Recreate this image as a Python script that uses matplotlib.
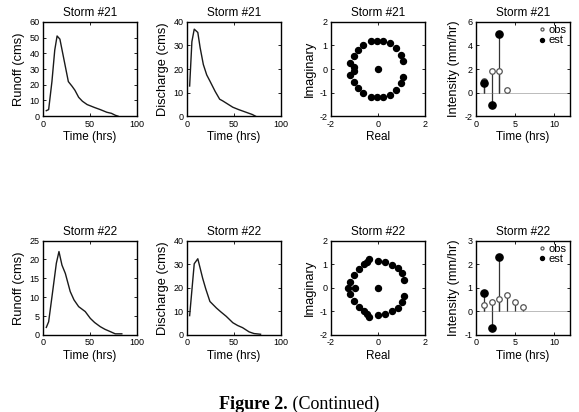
import matplotlib
matplotlib.use("Agg")
import matplotlib.pyplot as plt

plt.rcParams["font.family"] = ["Liberation Sans", "DejaVu Sans"]
plt.rcParams["axes.unicode_minus"] = False

TICK_SIZE = 6.5
LABEL_SIZE = 8.5
YLABEL_SIZE = 9.3
TITLE_SIZE = 8.5

STORMS = ["Storm #21", "Storm #22"]

# runoff (cms) vs time (hrs)
runoff_t21 = [3.5, 6, 9.5, 12.5, 15, 18, 22, 27, 31, 34, 38, 42, 47, 55, 61, 68, 73, 77, 80]
runoff_q21 = [3.5, 4.2, 22, 42, 51, 49, 37, 22, 19, 16.5, 12, 9.5, 7.4, 5.5, 4.2, 2.5, 1.8, 0.6, 0]
runoff_t22 = [3.5, 6, 10, 14.2, 17, 20.2, 23.8, 29, 33, 38, 45, 50.4, 55, 61, 66, 71.6, 77, 84]
runoff_q22 = [2.0, 3.5, 11, 19, 22.1, 18.5, 16.3, 11.5, 9.3, 7.5, 6.2, 4.4, 3.3, 2.2, 1.5, 0.9, 0.3, 0.3]

# discharge (cms) vs time (hrs)
disch_t21 = [2.8, 5.2, 7.7, 11.5, 14, 17.4, 21, 24.4, 30, 34.8, 38, 44, 48.8, 55, 62.7, 69.7, 73]
disch_q21 = [12.8, 31.6, 36.9, 35.5, 29, 21.9, 17.5, 14.9, 10.5, 7.2, 6.5, 5, 3.8, 2.8, 1.7, 0.7, 0]
disch_t22 = [2.8, 7.7, 11.5, 16.7, 20, 24.4, 31.4, 36, 41.8, 48.8, 54, 59.2, 66.2, 71.4, 78.4]
disch_q22 = [8.2, 30.2, 32.3, 24, 19.5, 14.2, 11.4, 9.8, 7.9, 5.2, 4.0, 3.1, 1.3, 0.6, 0.3]

# poles in the complex plane
poles_re21 = [-0.3, -0.06, 0.2, 0.5, 0.78, 0.98, 1.09, -0.62, -0.83, -1.04, -1.17, -1.0,
              -0.3, -0.06, 0.2, 0.5, 0.78, 0.98, 1.09, -0.62, -0.83, -1.04, -1.17, -1.0, 0.0]
poles_im21 = [1.2, 1.2, 1.2, 1.09, 0.87, 0.6, 0.32, 1.03, 0.81, 0.57, 0.26, 0.1,
              -1.2, -1.2, -1.2, -1.09, -0.87, -0.6, -0.32, -1.03, -0.81, -0.57, -0.26, -0.1, 0.0]
poles_re22 = [-0.38, -0.45, -0.6, -0.81, -1.0, -1.2, 0.0, 0.3, 0.61, 0.87, 1.04, 1.1,
              -0.38, -0.45, -0.6, -0.81, -1.0, -1.2, 0.0, 0.3, 0.61, 0.87, 1.04, 1.1,
              -1.26, -0.98, 0.0]
poles_im22 = [1.2, 1.08, 0.99, 0.78, 0.54, 0.26, 1.14, 1.09, 0.97, 0.83, 0.61, 0.31,
              -1.22, -1.1, -1.0, -0.8, -0.57, -0.28, -1.17, -1.1, -1.0, -0.85, -0.62, -0.33,
              0.0, 0.0, 0.0]

# rainfall intensity (mm/hr)
obs_t21 = [1, 2, 3, 4]
obs_i21 = [0.95, 1.8, 1.8, 0.25]
est_t21 = [1, 2, 3]
est_i21 = [0.85, -1.05, 4.95]
obs_t22 = [1, 2, 3, 4, 5, 6]
obs_i22 = [0.27, 0.38, 0.52, 0.69, 0.38, 0.17]
est_t22 = [1, 2, 3]
est_i22 = [0.79, -0.72, 2.29]

COLS = [0.0743, 0.323, 0.5717, 0.822]
ROWS = [0.718, 0.187]
W, H = 0.162, 0.229


def style(ax, title):
    ax.set_title(title, fontsize=TITLE_SIZE, pad=4)
    ax.tick_params(direction="in", top=True, right=True, length=2.5, width=0.6,
                   labelsize=TICK_SIZE, pad=2.5)
    for s in ax.spines.values():
        s.set_linewidth(1.0)
        s.set_color("black")


def hydrograph(ax, t, q, ylabel, ymax, yticks, title):
    ax.plot(t, q, color="#1a1a1a", lw=1.0)
    ax.set_xlim(0, 100)
    ax.set_ylim(0, ymax)
    ax.set_xticks([0, 50, 100])
    ax.set_yticks(yticks)
    ax.set_xlabel("Time (hrs)", fontsize=LABEL_SIZE, labelpad=1.5)
    ax.set_ylabel(ylabel, fontsize=YLABEL_SIZE, labelpad=3)
    style(ax, title)


def poles(ax, re, im, title):
    ax.plot(re, im, "o", color="black", ms=4.3, ls="none")
    ax.set_xlim(-2, 2)
    ax.set_ylim(-2, 2)
    ax.set_xticks([-2, 0, 2])
    ax.set_yticks([-2, -1, 0, 1, 2])
    ax.set_xlabel("Real", fontsize=LABEL_SIZE, labelpad=1.5)
    ax.set_ylabel("Imaginary", fontsize=YLABEL_SIZE, labelpad=3)
    style(ax, title)


def intensity(ax, ot, oi, et, ei, ylim, yticks, title):
    ax.axhline(0, color="#bbbbbb", lw=0.7, zorder=0)
    ax.vlines(ot, 0, oi, color="#333333", lw=0.9)
    ax.vlines(et, 0, ei, color="#333333", lw=0.9)
    ax.plot(ot, oi, "o", ms=4, mfc="white", mec="#555555", mew=0.9, ls="none",
            label="obs", zorder=3)
    ax.plot(et, ei, "o", ms=5.2, color="black", ls="none", label="est", zorder=4)
    ax.set_xlim(0, 12)
    ax.set_ylim(*ylim)
    ax.set_xticks([0, 5, 10])
    ax.set_yticks(yticks)
    ax.set_xlabel("Time (hrs)", fontsize=LABEL_SIZE, labelpad=1.5)
    ax.set_ylabel("Intensity (mm/hr)", fontsize=YLABEL_SIZE, labelpad=3)
    ax.legend(loc="upper right", frameon=False, fontsize=8, markerscale=0.55,
              handlelength=0.6, handletextpad=0.3, labelspacing=0.02,
              borderpad=0.0, borderaxespad=0.3)
    style(ax, title)


fig = plt.figure(figsize=(5.79, 4.12), dpi=100)

ax = fig.add_axes([COLS[0], ROWS[0], W, H])
hydrograph(ax, runoff_t21, runoff_q21, "Runoff (cms)", 60, range(0, 61, 10), STORMS[0])
ax = fig.add_axes([COLS[1], ROWS[0], W, H])
hydrograph(ax, disch_t21, disch_q21, "Discharge (cms)", 40, range(0, 41, 10), STORMS[0])
ax = fig.add_axes([COLS[2], ROWS[0], W, H])
poles(ax, poles_re21, poles_im21, STORMS[0])
ax = fig.add_axes([COLS[3], ROWS[0], W, H])
intensity(ax, obs_t21, obs_i21, est_t21, est_i21, (-2, 6), [-2, 0, 2, 4, 6], STORMS[0])

ax = fig.add_axes([COLS[0], ROWS[1], W, H])
hydrograph(ax, runoff_t22, runoff_q22, "Runoff (cms)", 25, range(0, 26, 5), STORMS[1])
ax = fig.add_axes([COLS[1], ROWS[1], W, H])
hydrograph(ax, disch_t22, disch_q22, "Discharge (cms)", 40, range(0, 41, 10), STORMS[1])
ax = fig.add_axes([COLS[2], ROWS[1], W, H])
poles(ax, poles_re22, poles_im22, STORMS[1])
ax = fig.add_axes([COLS[3], ROWS[1], W, H])
intensity(ax, obs_t22, obs_i22, est_t22, est_i22, (-1, 3), [-1, 0, 1, 2, 3], STORMS[1])

# caption at the bottom edge
CAPTION_FONT = ["Liberation Serif", "DejaVu Serif"]
fig.text(0.497, 0.008, "Figure 2.", family=CAPTION_FONT, fontsize=13,
         fontweight="bold", ha="right", va="baseline")
fig.text(0.497, 0.008, " (Continued)", family=CAPTION_FONT, fontsize=13,
         ha="left", va="baseline")

fig.savefig("out.png", dpi=100)
